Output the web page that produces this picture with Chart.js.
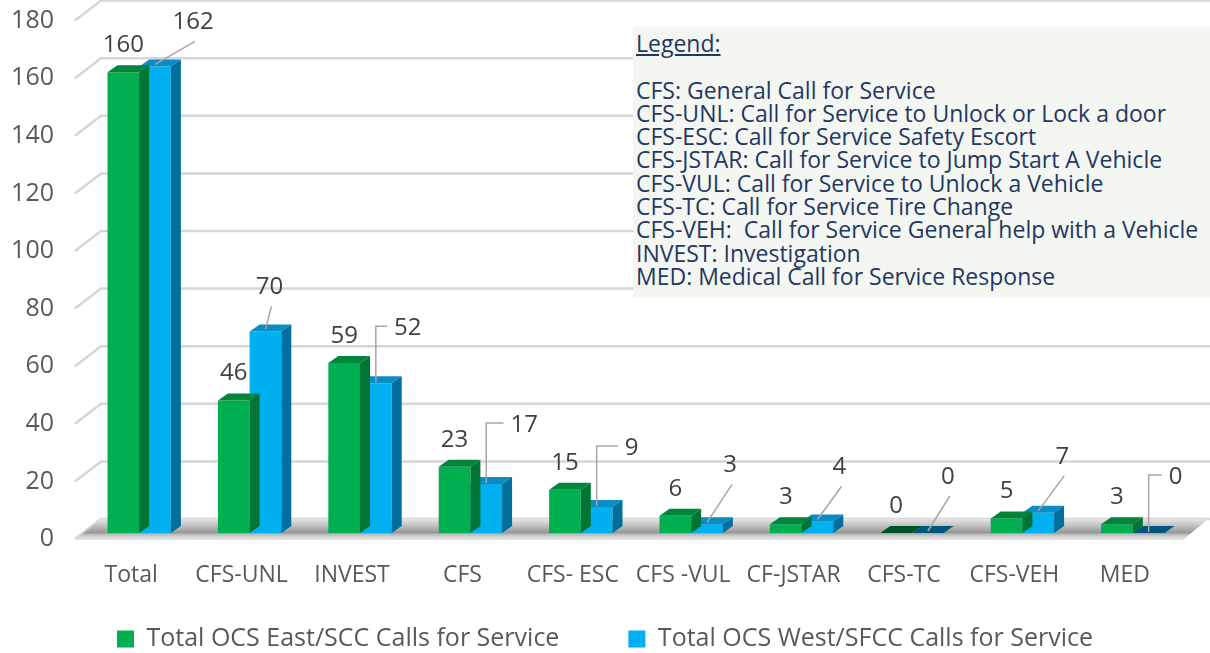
<!DOCTYPE html>
<html>
<head>
<meta charset="utf-8">
<script src="https://cdn.jsdelivr.net/npm/chart.js@4"></script>
<style>
  body { margin: 0; background: #fff; }
  #wrap { position: relative; width: 1210px; height: 653px; }
  #note {
    position: absolute; left: 633px; top: 27px; width: 574px; height: 265px;
    padding: 5px 0 0 3px; background: #f3f6f1; color: #1f3864;
    font-family: "Open Sans", sans-serif; font-size: 23px; line-height: 23.3px;
    white-space: pre;
  }
  #note u { text-decoration: underline; }
</style>
</head>
<body>
<div id="wrap">
  <canvas id="myChart" width="1210" height="653"></canvas>
  <div id="note"><u>Legend:</u>

CFS: General Call for Service
CFS-UNL: Call for Service to Unlock or Lock a door
CFS-ESC: Call for Service Safety Escort
CFS-JSTAR: Call for Service to Jump Start A Vehicle
CFS-VUL: Call for Service to Unlock a Vehicle
CFS-TC: Call for Service Tire Change
CFS-VEH:  Call for Service General help with a Vehicle
INVEST: Investigation
MED: Medical Call for Service Response</div>
</div>
<script>
var categorias = ['Total', 'CFS-UNL', 'INVEST', 'CFS', 'CFS- ESC', 'CFS -VUL', 'CF-JSTAR', 'CFS-TC', 'CFS-VEH', 'MED'];
var eastCalls = [160, 46, 59, 23, 15, 6, 3, 0, 5, 3];
var westCalls = [162, 70, 52, 17, 9, 3, 4, 0, 7, 0];
var eastLabel = 'Total OCS East/SCC Calls for Service';
var westLabel = 'Total OCS West/SFCC Calls for Service';
var yMax = 180;
var yStep = 20;

// where the west value labels sit, relative to the top of the blue bar
var westCallouts = [
    {dx: 38, dy: -44, elbow: false},
    {dx: 4, dy: -44, elbow: false},
    {dx: 32, dy: -55, elbow: true},
    {dx: 38, dy: -59, elbow: true},
    {dx: 35, dy: -59, elbow: true},
    {dx: 23, dy: -59, elbow: false},
    {dx: 22, dy: -54, elbow: false},
    {dx: 20, dy: -56, elbow: false},
    {dx: 24, dy: -56, elbow: false},
    {dx: 27, dy: -56, elbow: true}
];

var fonte = '"Open Sans", sans-serif';
var depthX = 10, depthY = -7;

function poly(ctx, pts){
    ctx.beginPath();
    ctx.moveTo(pts[0][0], pts[0][1]);
    for(var i = 1; i < pts.length; i++){
        ctx.lineTo(pts[i][0], pts[i][1]);
    }
    ctx.closePath();
    ctx.fill();
}

// back wall, left wall and floor
var paredes = {
    id: 'paredes',
    beforeDatasetsDraw: function(chart){
        var ctx = chart.ctx, a = chart.chartArea, y = chart.scales.y;
        ctx.save();
        ctx.strokeStyle = '#d6d6d6';
        ctx.lineWidth = 2.5;
        y.ticks.forEach(function(t){
            var py = y.getPixelForValue(t.value);
            ctx.beginPath();
            ctx.moveTo(a.left - 9, py + 6);
            ctx.lineTo(a.left + 17, py - 14);
            ctx.lineTo(chart.width, py - 14);
            ctx.stroke();
        });
        var b = y.getPixelForValue(0);
        var g = ctx.createLinearGradient(0, b - 14, 0, b + 7);
        g.addColorStop(0, '#e6e6e6');
        g.addColorStop(0.35, '#bdbdbd');
        g.addColorStop(0.66, '#969696');
        g.addColorStop(0.72, '#b8b8b8');
        g.addColorStop(0.85, '#d4d4d4');
        g.addColorStop(1, '#e4e4e4');
        ctx.fillStyle = g;
        poly(ctx, [[a.left - 9, b + 7], [a.right - 5, b + 7], [a.right + 20, b - 14], [a.left + 17, b - 14]]);
        ctx.restore();
    }
};

// top and side faces of the bars
var barras3d = {
    id: 'barras3d',
    afterDatasetDraw: function(chart, args){
        var ctx = chart.ctx;
        var ds = chart.data.datasets[args.index];
        ctx.save();
        args.meta.data.forEach(function(bar, j){
            var l = bar.x - bar.width / 2, r = bar.x + bar.width / 2, t = bar.y, b = bar.base;
            var zero = ds.data[j] === 0;
            ctx.fillStyle = zero ? ds.flatColor : ds.topColor;
            poly(ctx, [[l, t], [r, t], [r + depthX, t + depthY], [l + depthX, t + depthY]]);
            if(!zero){
                ctx.fillStyle = ds.sideColor;
                poly(ctx, [[r, t], [r + depthX, t + depthY], [r + depthX, b + depthY], [r, b]]);
            }
        });
        ctx.restore();
    }
};

// value labels with leader lines
var rotulos = {
    id: 'rotulos',
    afterDatasetsDraw: function(chart){
        var ctx = chart.ctx;
        ctx.save();
        ctx.font = '24px ' + fonte;
        ctx.fillStyle = '#404040';
        ctx.textAlign = 'center';
        ctx.textBaseline = 'middle';
        chart.getDatasetMeta(0).data.forEach(function(bar, j){
            ctx.fillText(String(eastCalls[j]), bar.x, bar.y - 27);
        });
        ctx.strokeStyle = '#a6a6a6';
        ctx.lineWidth = 1.5;
        chart.getDatasetMeta(1).data.forEach(function(bar, j){
            var c = westCallouts[j];
            var txt = String(westCalls[j]);
            var lx = bar.x + c.dx, ly = bar.y + c.dy;
            var hw = ctx.measureText(txt).width / 2;
            ctx.beginPath();
            if(c.elbow){
                ctx.moveTo(bar.x, bar.y - 1);
                ctx.lineTo(bar.x, ly - 2);
                ctx.lineTo(lx - hw - 7, ly - 2);
            }else{
                ctx.moveTo(bar.x, bar.y - 2);
                ctx.lineTo(lx + 2, ly + 19);
            }
            ctx.stroke();
            ctx.fillText(txt, lx, ly);
        });
        ctx.restore();
    }
};

var ctx = document.getElementById('myChart').getContext('2d');
var myChart = new Chart(ctx, {
    type: 'bar',
    data: {
        labels: categorias,
        datasets: [
            {
                label: eastLabel,
                data: eastCalls,
                backgroundColor: '#00b050',
                topColor: '#00853c',
                sideColor: '#007534',
                flatColor: '#005226',
                borderWidth: 0
            },
            {
                label: westLabel,
                data: westCalls,
                backgroundColor: '#00b0f0',
                topColor: '#0a8cc4',
                sideColor: '#006f9c',
                flatColor: '#00577d',
                borderWidth: 0
            }
        ]
    },
    options: {
        responsive: false,
        animation: false,
        devicePixelRatio: 1,
        categoryPercentage: 0.574,
        barPercentage: 1,
        layout: {
            padding: {top: 14.6, right: 0, left: 0, bottom: -8.5}
        },
        scales: {
            y: {
                min: 0,
                max: yMax,
                grid: {display: false},
                border: {display: false},
                afterFit: function(s){
                    s.width = 84;
                    s.paddingTop = 0;
                    s.paddingBottom = 0;
                },
                ticks: {
                    stepSize: yStep,
                    padding: 22,
                    labelOffset: 6,
                    color: '#595959',
                    font: {family: fonte, size: 25}
                }
            },
            x: {
                grid: {display: false},
                border: {display: false},
                afterFit: function(s){
                    s.height = 63.5;
                    s.paddingLeft = 0;
                    s.paddingRight = 22;
                },
                ticks: {
                    padding: 21,
                    labelOffset: -8,
                    maxRotation: 0,
                    autoSkip: false,
                    color: '#595959',
                    font: {family: fonte, size: 23}
                }
            }
        },
        plugins: {
            legend: {
                position: 'bottom',
                labels: {
                    boxWidth: 17,
                    boxHeight: 17,
                    padding: 30,
                    color: '#595959',
                    font: {family: fonte, size: 25},
                    generateLabels: function(chart){
                        var itens = Chart.defaults.plugins.legend.labels.generateLabels(chart);
                        itens[0].text += '      ';
                        return itens;
                    }
                }
            },
            tooltip: {enabled: false}
        }
    },
    plugins: [paredes, barras3d, rotulos]
});
</script>
</body>
</html>
